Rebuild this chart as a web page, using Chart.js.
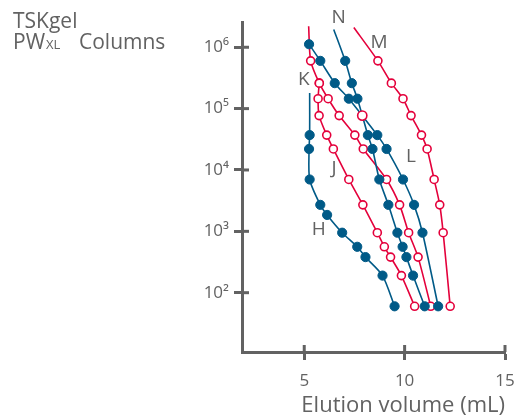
<!DOCTYPE html>
<html>
<head>
<meta charset="utf-8">
<script src="https://cdn.jsdelivr.net/npm/chart.js@4.4.1/dist/chart.umd.min.js"></script>
<style>
  html, body { margin: 0; padding: 0; background: #fff; }
  #wrap { width: 518px; height: 418px; }
</style>
</head>
<body>
<div id="wrap"><canvas id="chart"></canvas></div>
<script>
// calibration curves, molecular weight (Da) vs elution volume (mL)
// first point of H, K, M, N is the extrapolated line end (no marker)
const mwH = [180000, 37000, 22000, 7000, 2700, 1850, 950, 560, 380, 190, 60];
const volH = [5.27, 5.27, 5.24, 5.27, 5.8, 6.14, 6.89, 7.64, 8.05, 8.9, 9.5];

const mwJ = [260000, 145000, 77000, 37000, 22000, 7000, 2700, 950, 560, 380, 190, 60];
const volJ = [5.75, 5.69, 5.74, 6.12, 6.45, 7.22, 7.92, 8.64, 8.99, 9.3, 9.84, 10.5];

const mwK = [2200000, 600000, 260000, 145000, 77000, 37000, 22000, 7000, 2700, 950, 380, 60];
const volK = [5.22, 5.32, 5.75, 6.19, 6.74, 7.52, 7.94, 9.1, 9.75, 10.2, 10.67, 11.3];

const mwL = [1120000, 600000, 260000, 145000, 77000, 37000, 22000, 7000, 2700, 950, 60];
const volL = [5.24, 5.8, 6.52, 7.22, 7.89, 8.64, 9.1, 9.92, 10.47, 10.89, 11.67];

const mwM = [2100000, 600000, 260000, 145000, 77000, 37000, 22000, 7000, 2700, 950, 60];
const volM = [7.47, 8.67, 9.34, 9.92, 10.32, 10.84, 11.12, 11.47, 11.75, 11.92, 12.27];

const mwN = [1950000, 600000, 260000, 145000, 37000, 22000, 7000, 2700, 950, 560, 380, 190, 60];
const volN = [6.47, 7.04, 7.37, 7.65, 8.17, 8.4, 8.74, 9.19, 9.64, 9.9, 10.09, 10.42, 11.0];

const yTicks = [1e2, 1e3, 1e4, 1e5, 1e6];
const xTicks = [5, 10, 15];

// curve labels, anchored in data units
const curveNames = ['H', 'J', 'K', 'L', 'M', 'N'];
const curveLabelX = [5.72, 6.48, 4.98, 10.32, 8.72, 6.72];
const curveLabelY = [1080, 10500, 297000, 16500, 1210000, 3000000];

const blue = '#005a87';
const red = '#e4003b';
const grey = '#626262';
const font = '"Open Sans", "Liberation Sans", sans-serif';

const sup = { '2': '\u00b2', '3': '\u00b3', '4': '\u2074', '5': '\u2075', '6': '\u2076' };

function series(name, vols, mws, color, open, noMarkAt, swapAt) {
  const pts = vols.map((v, i) => ({ x: v, y: mws[i] }));
  const radius = pts.map((p, i) => (i === noMarkAt ? 0 : (open ? 4 : 4.6)));
  // an open red marker sits on the L curve
  const bg = pts.map((p, i) => (i === swapAt ? '#fff' : (open ? '#fff' : color)));
  const bd = pts.map((p, i) => (i === swapAt ? red : color));
  const bw = pts.map((p, i) => (i === swapAt || open ? 1.6 : 1));
  return {
    label: name,
    data: pts,
    borderColor: color,
    borderWidth: 1.6,
    tension: 0.25,
    pointRadius: radius,
    pointBackgroundColor: bg,
    pointBorderColor: bd,
    pointBorderWidth: bw,
  };
}

const crossTicks = {
  id: 'crossTicks',
  afterDatasetsDraw(chart) {
    const { ctx, scales: { x, y } } = chart;
    ctx.save();
    ctx.strokeStyle = grey;
    ctx.lineWidth = 3;
    yTicks.forEach(v => {
      const py = y.getPixelForValue(v);
      ctx.beginPath(); ctx.moveTo(y.right, py); ctx.lineTo(y.right + 7, py); ctx.stroke();
    });
    xTicks.forEach(v => {
      const px = x.getPixelForValue(v);
      ctx.beginPath(); ctx.moveTo(px, x.top); ctx.lineTo(px, x.top - 7); ctx.stroke();
    });
    ctx.restore();
  }
};

const texts = {
  id: 'texts',
  afterDraw(chart) {
    const { ctx, scales: { x, y } } = chart;
    ctx.save();
    ctx.fillStyle = grey;
    ctx.textAlign = 'center';
    ctx.textBaseline = 'middle';
    ctx.font = '19px ' + font;
    curveNames.forEach((n, i) => {
      ctx.fillText(n, x.getPixelForValue(curveLabelX[i]), y.getPixelForValue(curveLabelY[i]));
    });
    ctx.textAlign = 'left';
    ctx.textBaseline = 'alphabetic';
    ctx.font = '21px ' + font;
    ctx.fillText('TSKgel', 13, 28);
    ctx.fillText('PW', 13, 49);
    const pw = ctx.measureText('PW').width;
    ctx.font = '13px ' + font;
    ctx.fillText('XL', 13 + pw + 1, 49);
    ctx.font = '21px ' + font;
    ctx.fillText('Columns', 79, 49);
    ctx.restore();
  }
};

new Chart(document.getElementById('chart'), {
  type: 'line',
  data: {
    datasets: [
      series('L', volL, mwL, blue, false, -1, 4),
      series('H', volH, mwH, blue, false, 0, -1),
      series('N', volN, mwN, blue, false, 0, -1),
      series('J', volJ, mwJ, red, true, -1, -1),
      series('K', volK, mwK, red, true, 0, -1),
      series('M', volM, mwM, red, true, 0, -1),
    ]
  },
  options: {
    responsive: true,
    maintainAspectRatio: false,
    animation: false,
    layout: { padding: { left: 0, right: 13, top: 22, bottom: 0 } },
    plugins: { legend: { display: false }, tooltip: { enabled: false } },
    scales: {
      x: {
        type: 'linear',
        min: 1.9,
        max: 15,
        afterBuildTicks: s => { s.ticks = xTicks.map(v => ({ value: v })); },
        afterFit: s => { s.height = 66; s.paddingLeft = 0; s.paddingRight = 0; },
        grid: { drawOnChartArea: false, drawTicks: true, tickLength: 8, tickWidth: 3, tickColor: grey },
        border: { color: grey, width: 3 },
        ticks: { color: grey, font: { family: font, size: 17 }, padding: 11, maxRotation: 0 },
        title: {
          display: true, text: 'Elution volume (mL)', align: 'end', color: grey,
          font: { family: font, size: 22, lineHeight: 1 }, padding: { top: 0, bottom: 1 }
        }
      },
      y: {
        type: 'logarithmic',
        min: 10.8,
        max: 2580000,
        afterBuildTicks: s => { s.ticks = yTicks.map(v => ({ value: v })); },
        afterFit: s => { s.width = 242; s.paddingTop = 0; s.paddingBottom = 0; },
        grid: { drawOnChartArea: false, drawTicks: true, tickLength: 8, tickWidth: 3, tickColor: grey },
        border: { color: grey, width: 3 },
        ticks: {
          color: grey, font: { family: font, size: 17 }, padding: 5,
          callback: v => '10' + sup[String(Math.round(Math.log10(v)))]
        }
      }
    }
  },
  plugins: [crossTicks, texts]
});
</script>
</body>
</html>
